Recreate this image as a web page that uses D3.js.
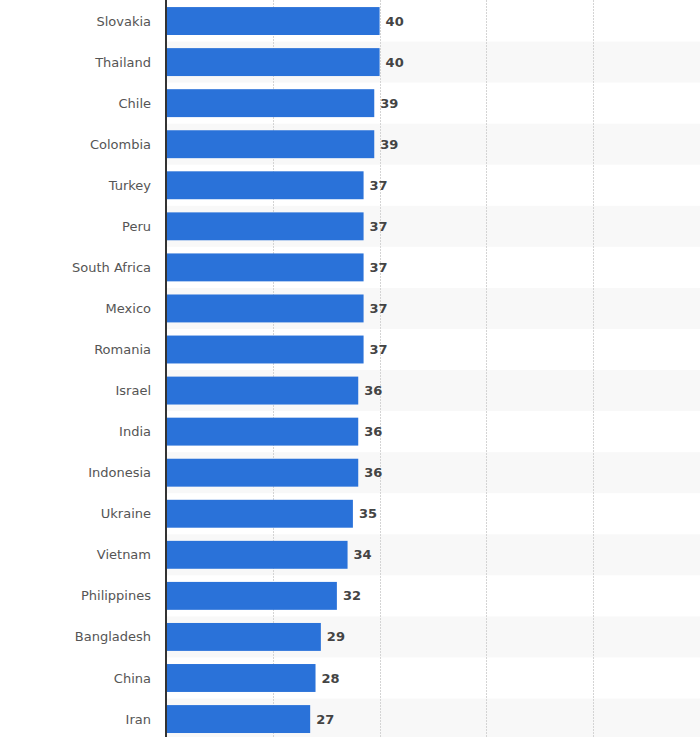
<!DOCTYPE html>
<html><head><meta charset="utf-8">
<script src="https://cdn.jsdelivr.net/npm/d3@7"></script>
<style>body{margin:0;background:#fff;}svg{display:block;}</style>
</head><body>
<svg id="c" width="700" height="737"></svg>
<script>
const categories = ["Slovakia","Thailand","Chile","Colombia","Turkey","Peru","South Africa","Mexico","Romania","Israel","India","Indonesia","Ukraine","Vietnam","Philippines","Bangladesh","China","Iran"];
const values = [40,40,39,39,37,37,37,37,37,36,36,36,35,34,32,29,28,27];
const gridTicks = [20,40,60,80,100];

const svg = d3.select("#c");
const W = 700, H = 737;
const x = d3.scaleLinear().domain([0,100]).range([166,700]);
const y = d3.scaleBand().domain(categories).range([0.5, 0.5 + 41.06*categories.length]).paddingInner(0.32).paddingOuter(0.16);
const band = d3.scaleBand().domain(categories).range([0.5, 0.5 + 41.06*categories.length]);

// stripes
svg.selectAll("rect.stripe").data(categories.filter((d,i)=>i%2===1)).enter().append("rect")
  .attr("x",166).attr("width",W-166).attr("y",d=>band(d)).attr("height",band.bandwidth())
  .attr("fill","#f8f8f8");

// grid
svg.selectAll("line.grid").data(gridTicks).enter().append("line")
  .attr("x1",d=>Math.round(x(d))+0.5).attr("x2",d=>Math.round(x(d))+0.5)
  .attr("y1",0).attr("y2",H)
  .attr("stroke","#d4d4d4").attr("stroke-width",1).attr("stroke-dasharray","2,1");

// bars
svg.selectAll("rect.bar").data(values).enter().append("rect")
  .attr("x",x(0)+1).attr("y",(d,i)=>y(categories[i]))
  .attr("width",d=>x(d)-x(0)-1).attr("height",y.bandwidth())
  .attr("fill","#2a72d9");

// axis line
svg.append("line").attr("x1",166).attr("x2",166).attr("y1",0).attr("y2",H)
  .attr("stroke","#333").attr("stroke-width",2);

// category labels
svg.selectAll("text.cat").data(categories).enter().append("text")
  .attr("x",151).attr("y",d=>band(d)+band.bandwidth()/2).attr("dy","0.35em")
  .attr("text-anchor","end").attr("font-family","DejaVu Sans, Verdana, sans-serif")
  .attr("font-size",13).attr("fill","#555").text(d=>d);

// value labels
svg.selectAll("text.val").data(values).enter().append("text")
  .attr("x",d=>x(d)+6).attr("y",(d,i)=>band(categories[i])+band.bandwidth()/2).attr("dy","0.35em")
  .attr("font-family","DejaVu Sans, Verdana, sans-serif").attr("font-weight","bold")
  .attr("font-size",13).attr("fill","#444").text(d=>d);
</script>
</body></html>
